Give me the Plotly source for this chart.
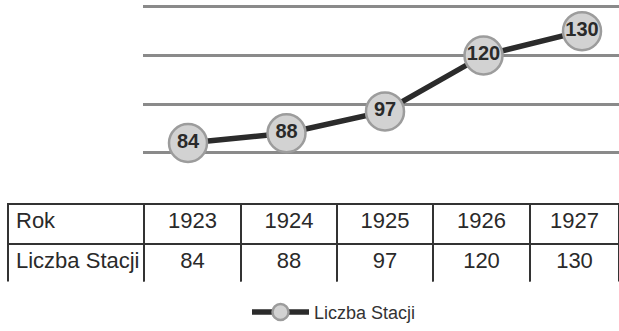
import plotly.graph_objects as go

# Data
years = [1923, 1924, 1925, 1926, 1927]
stations = [84, 88, 97, 120, 130]
row_label_year = "Rok"
row_label_count = "Liczba Stacji"
series_name = "Liczba Stacji"
y_ticks = [80, 100, 120, 140]

W, H = 619, 331

SANS = "Liberation Sans, Arial, sans-serif"

fig = go.Figure()

# Line with labelled circular markers
fig.add_trace(go.Scatter(
    x=years,
    y=stations,
    mode="lines+markers+text",
    name=series_name,
    text=[str(v) for v in stations],
    textposition="middle center",
    textfont=dict(family=SANS, size=20, color="#2a2a2a", weight="bold"),
    line=dict(color="#2b2b2b", width=5.5),
    marker=dict(size=38, color="#d2d2d2", line=dict(color="#9c9c9c", width=2.5)),
    cliponaxis=False,
    xaxis="x", yaxis="y",
))

# Data table underneath (non-breaking space keeps the row label on one line)
header_vals = [row_label_year] + [str(y) for y in years]
cell_vals = [[row_label_count.replace(" ", "\u00a0")]] + [[str(v)] for v in stations]
aligns = ["left"] + ["center"] * len(years)

fig.add_trace(go.Table(
    domain=dict(x=[8 / W, 1], y=[1 - 288 / H, 1 - 208 / H]),
    columnwidth=[136, 97, 96, 96, 97, 89],
    header=dict(
        values=header_vals,
        align=aligns,
        height=40,
        fill=dict(color="white"),
        line=dict(color="#333333", width=2),
        font=dict(family=SANS, size=22, color="#2a2a2a"),
    ),
    cells=dict(
        values=cell_vals,
        align=aligns,
        height=40,
        fill=dict(color="white"),
        line=dict(color="#333333", width=2),
        font=dict(family=SANS, size=22, color="#2a2a2a"),
    ),
))

# Axis scaling: 80..140 spans the four gridlines
y_px_top, y_px_bot = 0, 170
y_lo = 80 - (y_px_bot - 156) / (149 / 60)
y_hi = 140 + (7 - y_px_top) / (149 / 60)
x_px_left = 143
px_per_year = 98.5
x_lo = years[0] - (188 - x_px_left) / px_per_year
x_hi = x_lo + (W - x_px_left) / px_per_year

fig.update_layout(
    width=W, height=H,
    margin=dict(l=0, r=0, t=0, b=0),
    paper_bgcolor="white",
    plot_bgcolor="white",
    xaxis=dict(domain=[x_px_left / W, 1], range=[x_lo, x_hi], visible=False,
               showgrid=False, zeroline=False),
    yaxis=dict(domain=[1 - y_px_bot / H, 1 - y_px_top / H], range=[y_lo, y_hi],
               tickvals=y_ticks, showticklabels=False, ticks="",
               showgrid=True, gridcolor="#8a8a8a", gridwidth=2.5,
               zeroline=False, showline=False),
    showlegend=True,
    legend=dict(
        orientation="h",
        x=247 / W, xanchor="left",
        y=1 - 319 / H, yanchor="middle",
        font=dict(family=SANS, size=18, color="#333333"),
        bgcolor="rgba(0,0,0,0)",
        itemsizing="trace",
        itemwidth=57,
    ),
)

fig.write_html("out.html")
